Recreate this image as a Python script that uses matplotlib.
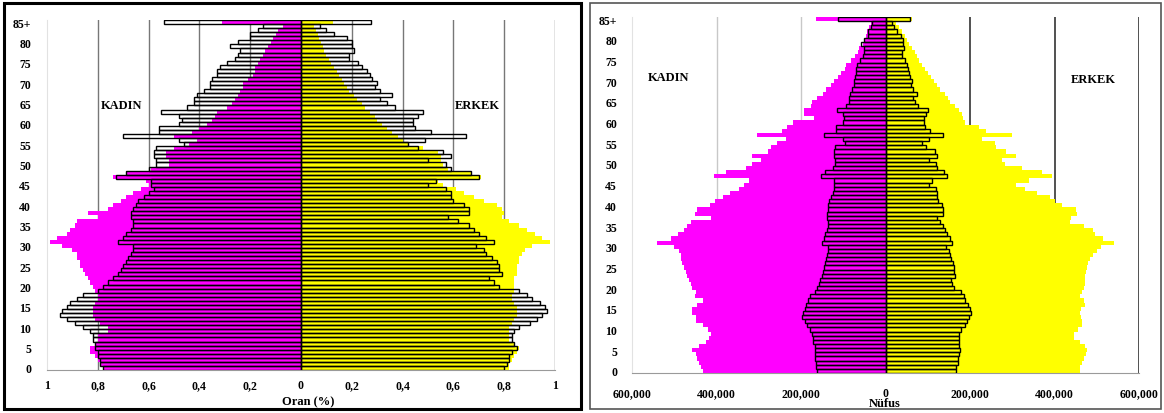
import numpy as np
import matplotlib.pyplot as plt
from matplotlib.patches import Rectangle
from matplotlib.ticker import FuncFormatter

plt.rcParams['font.family'] = ['Liberation Serif', 'DejaVu Serif']
plt.rcParams['font.weight'] = 'bold'

# yas gruplari 0..84 ve 85+
ages = list(range(86))
age_ticks = list(range(0, 86, 5))
age_labels = [str(a) for a in age_ticks[:-1]] + ['85+']

# --- sol grafik: Oran (%) ---
oran_kadin_dolu = [
    0.78, 0.79, 0.80, 0.81, 0.83, 0.83, 0.81, 0.80, 0.80, 0.76,
    0.76, 0.79, 0.81, 0.82, 0.82, 0.82, 0.81, 0.80, 0.80, 0.81,
    0.82, 0.83, 0.84, 0.85, 0.86, 0.87, 0.87, 0.88, 0.88, 0.90,
    0.94, 0.99, 0.96, 0.92, 0.91, 0.89, 0.88, 0.80, 0.84, 0.76,
    0.74, 0.71, 0.69, 0.66, 0.63, 0.60, 0.61, 0.74, 0.69, 0.59,
    0.52, 0.52, 0.53, 0.53, 0.50, 0.44, 0.41, 0.50, 0.43, 0.40,
    0.37, 0.35, 0.34, 0.33, 0.29, 0.27, 0.26, 0.25, 0.24, 0.23,
    0.23, 0.21, 0.19, 0.18, 0.18, 0.17, 0.16, 0.15, 0.14, 0.13,
    0.12, 0.11, 0.10, 0.09, 0.07, 0.31]
oran_erkek_dolu = [
    0.82, 0.82, 0.83, 0.84, 0.85, 0.86, 0.84, 0.82, 0.82, 0.82,
    0.82, 0.83, 0.84, 0.85, 0.85, 0.85, 0.84, 0.83, 0.83, 0.84,
    0.84, 0.84, 0.84, 0.85, 0.85, 0.85, 0.86, 0.86, 0.87, 0.88,
    0.91, 0.98, 0.95, 0.92, 0.89, 0.86, 0.82, 0.79, 0.80, 0.79,
    0.77, 0.72, 0.68, 0.64, 0.61, 0.56, 0.54, 0.71, 0.67, 0.58,
    0.56, 0.55, 0.55, 0.54, 0.48, 0.42, 0.40, 0.38, 0.36, 0.34,
    0.32, 0.30, 0.29, 0.27, 0.25, 0.24, 0.22, 0.21, 0.19, 0.18,
    0.17, 0.16, 0.15, 0.14, 0.13, 0.12, 0.11, 0.10, 0.09, 0.085,
    0.08, 0.07, 0.065, 0.06, 0.05, 0.125]
oran_kadin_cizgi = [
    0.78, 0.79, 0.79, 0.80, 0.80, 0.81, 0.81, 0.82, 0.82, 0.83,
    0.86, 0.89, 0.92, 0.95, 0.94, 0.92, 0.91, 0.88, 0.86, 0.80,
    0.78, 0.76, 0.74, 0.72, 0.71, 0.70, 0.69, 0.68, 0.67, 0.66,
    0.66, 0.72, 0.70, 0.69, 0.67, 0.66, 0.66, 0.67, 0.67, 0.66,
    0.65, 0.64, 0.62, 0.60, 0.58, 0.59, 0.59, 0.73, 0.69, 0.60,
    0.57, 0.57, 0.58, 0.58, 0.57, 0.46, 0.48, 0.70, 0.56, 0.56,
    0.48, 0.47, 0.48, 0.55, 0.45, 0.42, 0.42, 0.41, 0.38, 0.36,
    0.36, 0.35, 0.33, 0.33, 0.32, 0.29, 0.26, 0.25, 0.24, 0.28,
    0.25, 0.20, 0.20, 0.17, 0.15, 0.54]
oran_erkek_cizgi = [
    0.80, 0.81, 0.82, 0.82, 0.83, 0.85, 0.84, 0.83, 0.83, 0.84,
    0.86, 0.90, 0.93, 0.95, 0.97, 0.96, 0.94, 0.91, 0.89, 0.86,
    0.78, 0.76, 0.74, 0.79, 0.78, 0.78, 0.77, 0.75, 0.73, 0.72,
    0.69, 0.76, 0.73, 0.70, 0.68, 0.66, 0.62, 0.58, 0.66, 0.66,
    0.64, 0.60, 0.59, 0.59, 0.57, 0.50, 0.53, 0.70, 0.67, 0.59,
    0.57, 0.50, 0.59, 0.56, 0.46, 0.42, 0.49, 0.65, 0.51, 0.45,
    0.44, 0.44, 0.46, 0.48, 0.37, 0.34, 0.31, 0.36, 0.31, 0.29,
    0.30, 0.28, 0.27, 0.26, 0.24, 0.225, 0.19, 0.19, 0.21, 0.20,
    0.20, 0.18, 0.13, 0.10, 0.075, 0.275]

# --- sag grafik: Nufus (bin kisi) ---
nufus_kadin_dolu = [
    433, 437, 441, 445, 449, 457, 441, 425, 417, 414,
    421, 433, 449, 449, 457, 457, 445, 433, 452, 449,
    457, 461, 465, 469, 473, 476, 481, 483, 485, 488,
    500, 540, 508, 492, 476, 469, 461, 414, 450, 446,
    416, 403, 385, 369, 346, 334, 322, 405, 377, 330,
    317, 295, 315, 277, 271, 256, 236, 303, 245, 233,
    218, 170, 192, 194, 177, 173, 161, 149, 141, 130,
    121, 113, 106, 97, 94, 82, 73, 66, 62, 54,
    50, 47, 43, 38, 35, 165]
nufus_erkek_dolu = [
    461, 461, 465, 470, 475, 477, 472, 460, 445, 445,
    455, 465, 465, 463, 461, 463, 473, 470, 461, 465,
    470, 472, 473, 473, 475, 478, 480, 485, 490, 500,
    510, 540, 515, 495, 490, 470, 437, 440, 453, 450,
    418, 400, 390, 359, 331, 308, 340, 395, 371, 323,
    284, 276, 308, 285, 262, 260, 229, 300, 237, 221,
    189, 183, 181, 174, 165, 153, 148, 140, 130, 122,
    114, 107, 100, 93, 86, 80, 75, 70, 62, 56,
    51, 46, 38, 32, 25, 62]
nufus_kadin_cizgi = [
    162, 164, 164, 166, 166, 168, 168, 171, 171, 173,
    179, 185, 191, 198, 196, 191, 189, 183, 179, 166,
    162, 158, 154, 150, 148, 146, 144, 141, 139, 137,
    137, 150, 146, 144, 139, 137, 137, 139, 139, 137,
    135, 133, 129, 125, 121, 123, 123, 152, 144, 125,
    119, 119, 121, 121, 119, 96, 100, 146, 116, 116,
    100, 98, 100, 114, 94, 87, 87, 85, 79, 75,
    75, 73, 69, 69, 67, 60, 54, 52, 50, 58,
    52, 42, 42, 35, 31, 112]
nufus_erkek_cizgi = [
    166, 168, 171, 171, 173, 177, 175, 173, 173, 175,
    179, 187, 193, 198, 202, 200, 196, 189, 185, 179,
    162, 158, 154, 164, 162, 162, 160, 156, 152, 150,
    144, 158, 152, 146, 141, 137, 129, 121, 137, 137,
    133, 125, 123, 123, 119, 104, 110, 146, 139, 123,
    119, 104, 123, 116, 96, 87, 102, 135, 106, 94,
    92, 92, 96, 100, 77, 71, 64, 75, 64, 60,
    62, 58, 56, 54, 50, 47, 40, 40, 44, 42,
    42, 37, 27, 21, 16, 57]

W, H = 1164, 414
fig = plt.figure(figsize=(W / 100, H / 100), dpi=100)


def px_axes(x0, y0, x1, y1):
    # pixel box (top-left origin) -> figure axes
    return fig.add_axes([x0 / W, 1 - y1 / H, (x1 - x0) / W, (y1 - y0) / H])


def pyramid(ax, kadin, erkek, kadin_c, erkek_c):
    ax.barh(ages, -np.array(kadin), height=1.0, color='#ff00ff', linewidth=0, zorder=2)
    ax.barh(ages, erkek, height=1.0, color='#ffff00', linewidth=0, zorder=2)
    ax.barh(ages, -np.array(kadin_c), height=1.0, facecolor='none',
            edgecolor='black', linewidth=1.0, zorder=3)
    ax.barh(ages, erkek_c, height=1.0, facecolor='none',
            edgecolor='black', linewidth=1.0, zorder=3)
    ax.set_ylim(-0.5, 85.5)
    ax.set_yticks(age_ticks)
    ax.set_yticklabels(age_labels)
    for s in ['top', 'right']:
        ax.spines[s].set_visible(False)
    ax.spines['left'].set_color('#e2e2e2')
    ax.spines['bottom'].set_color('#9a9a9a')
    ax.tick_params(length=0, labelsize=8.5)


# sol panel
ax1 = px_axes(47, 21, 555, 371)
pyramid(ax1, oran_kadin_dolu, oran_erkek_dolu, oran_kadin_cizgi, oran_erkek_cizgi)
ax1.set_xlim(-1, 1)
xt1 = [-1, -0.8, -0.6, -0.4, -0.2, 0, 0.2, 0.4, 0.6, 0.8, 1]
ax1.set_xticks(xt1)
ax1.xaxis.set_major_formatter(FuncFormatter(lambda v, p: f'{abs(v):g}'.replace('.', ',')))
for v in xt1:
    if v not in (-1, 0):
        ax1.axvline(v, color='#777777', lw=1, zorder=1)
ax1.tick_params(axis='y', pad=11.5)
ax1.tick_params(axis='x', pad=6.5)
ax1.set_xlabel('Oran (%)', fontsize=9, weight='bold')
ax1.xaxis.label.set_va('center')
ax1.xaxis.set_label_coords(0.514, -0.089)
ax1.text(-0.705, 64.6, 'KADIN', ha='center', va='center', fontsize=9, weight='bold')
ax1.text(0.693, 64.6, 'ERKEK', ha='center', va='center', fontsize=9, weight='bold')

# sag panel
ax2 = px_axes(632, 18, 1139, 374)
pyramid(ax2, np.array(nufus_kadin_dolu) * 1000, np.array(nufus_erkek_dolu) * 1000,
        np.array(nufus_kadin_cizgi) * 1000, np.array(nufus_erkek_cizgi) * 1000)
ax2.set_xlim(-600000, 600000)
xt2 = [-600000, -400000, -200000, 0, 200000, 400000, 600000]
ax2.set_xticks(xt2)
ax2.xaxis.set_major_formatter(FuncFormatter(lambda v, p: f'{abs(int(v)):,}'))
for v in xt2:
    if v < 0 and v > -600000:
        ax2.axvline(v, color='#c8c8c8', lw=1, zorder=1)
    elif v > 0:
        ax2.axvline(v, color='#333333', lw=1.2, zorder=1)
ax2.tick_params(axis='y', pad=10.8)
ax2.tick_params(axis='x', pad=10)
ax2.set_xlabel('Nüfus', fontsize=9, weight='bold')
ax2.xaxis.label.set_va('center')
ax2.xaxis.set_label_coords(0.499, -0.084)
ax2.text(-513000, 71, 'KADIN', ha='center', va='center', fontsize=9, weight='bold')
ax2.text(492000, 70.5, 'ERKEK', ha='center', va='center', fontsize=9, weight='bold')

# cerceveler
fig.add_artist(Rectangle((3.5 / W, 1 - 409.5 / H), 577 / W, 406 / H,
                         transform=fig.transFigure, fill=False, lw=2.2, ec='black'))
fig.add_artist(Rectangle((589.5 / W, 1 - 410 / H), 571.5 / W, 406.5 / H,
                         transform=fig.transFigure, fill=False, lw=1.2, ec='#555555'))

fig.savefig('out.png', dpi=100)
